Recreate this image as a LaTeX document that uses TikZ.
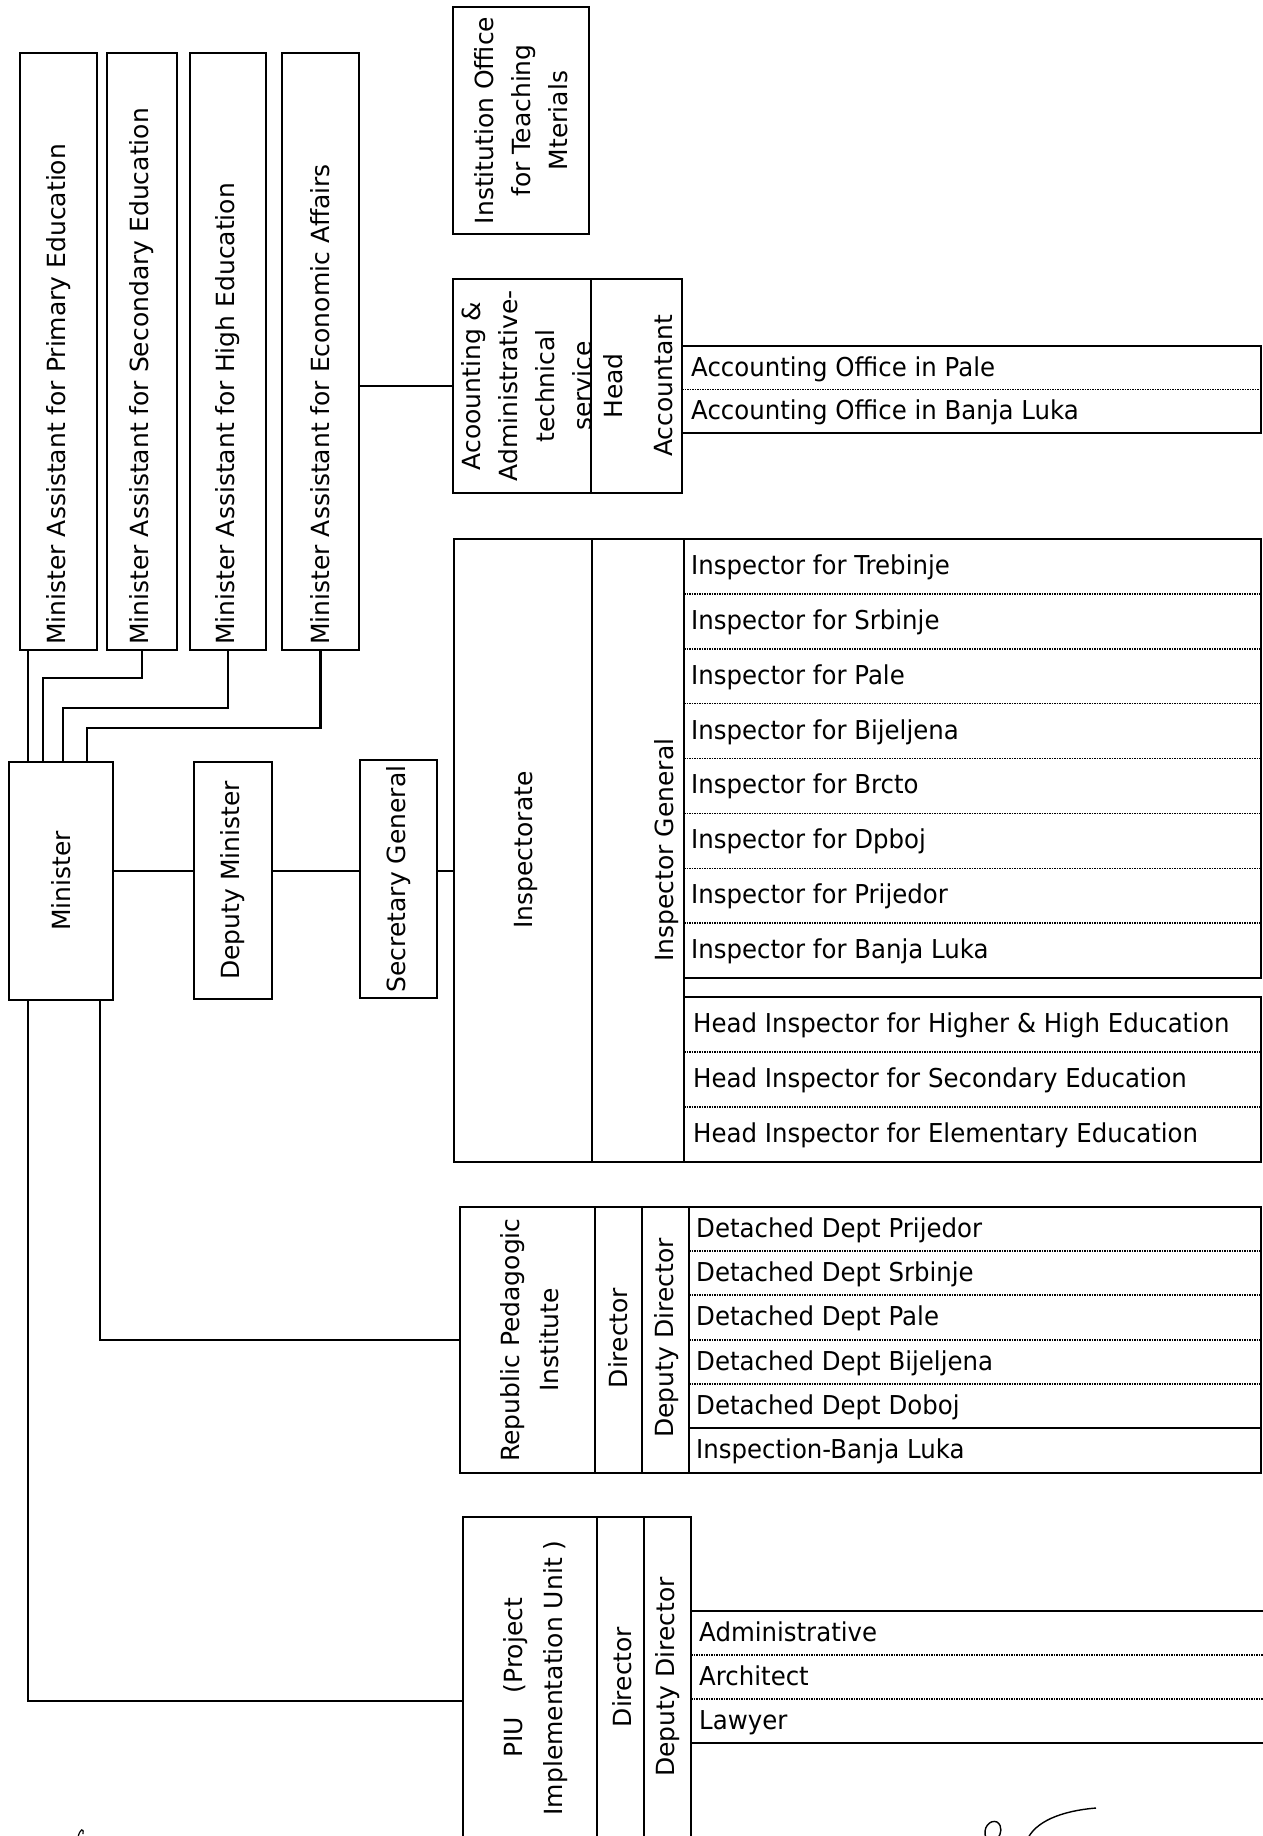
\documentclass[tikz,border=0pt]{standalone}
\usepackage{fontspec}
\setmainfont{DejaVu Sans}
\newfontfamily\lstfont[FakeStretch=0.94]{DejaVu Sans}
\usetikzlibrary{calc}
\begin{document}
\begin{tikzpicture}[x=1pt,y=-1pt,
  box/.style={draw, line width=2.3pt, inner sep=0pt, outer sep=0pt},
  rlabel/.style={rotate=90, inner sep=0pt, font=\fontsize{25}{37}\selectfont, align=center},
  item/.style={anchor=base west, inner sep=0pt, font=\lstfont\fontsize{26}{30}\selectfont},
  conn/.style={line width=2.2pt},
  sepline/.style={line width=1.5pt, densely dotted},
  solidsep/.style={line width=2.2pt},
]
\useasboundingbox (0,0) rectangle (1263,1836);
\clip (0,0) rectangle (1263,1836);

% ---- Minister assistants
\node[box, minimum width=77pt, minimum height=597pt] (MA1) at (58.5,351.5) {};
\node[box, minimum width=70pt, minimum height=597pt] (MA2) at (142,351.5) {};
\node[box, minimum width=76pt, minimum height=597pt] (MA3) at (228,351.5) {};
\node[box, minimum width=77pt, minimum height=597pt] (MA4) at (320.5,351.5) {};
\node[rlabel, anchor=west] (tMA1) at ([yshift=5pt]MA1.south) {Minister Assistant for Primary Education};
\node[rlabel, anchor=west] (tMA2) at ([yshift=5pt]MA2.south) {Minister Assistant for Secondary Education};
\node[rlabel, anchor=west] (tMA3) at ([yshift=5pt]MA3.south) {Minister Assistant for High Education};
\node[rlabel, anchor=west] (tMA4) at ([yshift=5pt]MA4.south) {Minister Assistant for Economic Affairs};

% ---- Minister, Deputy, Secretary
\node[box, minimum width=104pt, minimum height=238pt] (Min) at (61,881) {};
\node[rlabel] (tMin) at (Min.center) {Minister};
\node[box, minimum width=78pt, minimum height=237pt] (Dep) at (233,880.5) {};
\node[rlabel] (tDep) at (Dep.center) {Deputy Minister};
\node[box, minimum width=77pt, minimum height=238pt] (Sec) at (398.5,879) {};
\node[rlabel] (tSec) at (Sec.center) {Secretary General};

% ---- Institution office
\node[box, minimum width=136pt, minimum height=227pt] (Inst) at (521,120.5) {};
\node[rlabel] (tInst) at (Inst.center) {Institution Office\\for Teaching\\Mterials};

% ---- Accounting
\node[box, minimum width=138pt, minimum height=214pt] (Acc) at (522,386) {};
\node[rlabel] (tAcc) at (527,386) {Acoounting \&\\Administrative-\\technical\\service};
\node[box, minimum width=91pt, minimum height=214pt] (HAcc) at (636.5,386) {};
\node[rlabel] (tHAcc) at (638,386) {Head\\[13pt]Accountant};
\node[box, minimum width=579pt, minimum height=87pt] (AccOff) at (971.5,389.5) {};
\draw[sepline] (AccOff.west) -- (AccOff.east);
\node[item] (ao1) at (691,376) {Accounting Office in Pale};
\node[item] (ao2) at (691,419) {Accounting Office in Banja Luka};

% ---- Inspectorate
\node[box, minimum width=138pt, minimum height=623pt] (Insp) at (523,850.5) {};
\node[rlabel] (tInsp) at (526,850) {Inspectorate};
\node[box, minimum width=92pt, minimum height=623pt] (IG) at (638,850.5) {};
\node[rlabel] (tIG) at (667,850) {Inspector General};
\node[box, minimum width=577pt, minimum height=439pt] (InsList) at (972.5,758.5) {};
\foreach \k in {1,...,7} {
  \draw[sepline] (684,{539+\k*54.875}) -- (1261,{539+\k*54.875});
}
\foreach \t [count=\i] in {Trebinje,Srbinje,Pale,Bijeljena,Brcto,Dpboj,Prijedor,Banja Luka} {
  \node[item] (ins\i) at (691,{539+(\i-0.5)*54.875+8}) {Inspector for \t};
}
\node[box, minimum width=577pt, minimum height=165pt] (HeadList) at (972.5,1079.5) {};
\draw[sepline] (684,1052) -- (1261,1052);
\draw[sepline] (684,1107) -- (1261,1107);
\node[item] (hi1) at (693,1032.5) {Head Inspector for Higher \& High Education};
\node[item] (hi2) at (693,1087.5) {Head Inspector for Secondary Education};
\node[item] (hi3) at (693,1142.5) {Head Inspector for Elementary Education};

% ---- Republic Pedagogic Institute
\node[box, minimum width=135pt, minimum height=266pt] (RPI) at (527.5,1340) {};
\node[rlabel, font=\fontsize{25}{39}\selectfont] (tRPI) at (530,1340) {Republic Pedagogic\\Institute};
\node[box, minimum width=47pt, minimum height=266pt] (RDir) at (618.5,1340) {};
\node[rlabel] (tRDir) at (618.5,1338) {Director};
\node[box, minimum width=47pt, minimum height=266pt] (RDep) at (665.5,1340) {};
\node[rlabel] (tRDep) at (667,1338) {Deputy Director};
\node[box, minimum width=572pt, minimum height=266pt] (Dept) at (975,1340) {};
\foreach \yy in {1251,1295,1340,1384} {
  \draw[sepline] (689,\yy) -- (1261,\yy);
}
\draw[solidsep] (689,1428) -- (1261,1428);
\foreach \t/\yy [count=\i] in {Detached Dept Prijedor/1229,Detached Dept Srbinje/1273,Detached Dept Pale/1317.5,Detached Dept Bijeljena/1362,Detached Dept Doboj/1406,Inspection-Banja Luka/1450.5} {
  \node[item] (dd\i) at (696,\yy+8) {\t};
}

% ---- PIU
\node[box, minimum width=134pt, minimum height=323pt] (PIU) at (530,1678.5) {};
\node[rlabel, font=\fontsize{25}{40}\selectfont] (tPIU) at (536,1678) {PIU\ \ \ (Project\\Implementation Unit )};
\node[box, minimum width=47pt, minimum height=323pt] (PDir) at (620.5,1678.5) {};
\node[rlabel] (tPDir) at (622,1677) {Director};
\node[box, minimum width=47pt, minimum height=323pt] (PDep) at (667.5,1678.5) {};
\node[rlabel] (tPDep) at (668,1677) {Deputy Director};
\node[inner sep=0pt, minimum width=580pt, minimum height=132pt] (Staff) at (981,1677) {};
\draw[solidsep] (Staff.north west) -- (Staff.north east);
\draw[solidsep] (Staff.south west) -- (Staff.south east);
\draw[sepline] (691,1655) -- (1270,1655);
\draw[sepline] (691,1699) -- (1270,1699);
\node[item] (st1) at (699,1641) {Administrative};
\node[item] (st2) at (699,1685) {Architect};
\node[item] (st3) at (699,1729) {Lawyer};

% ---- connectors
\coordinate (b1) at (28,0);
\coordinate (b2) at (43,678);
\coordinate (b3) at (63,708);
\coordinate (b4) at (87,728);
\coordinate (hy) at (0,871);
\coordinate (m2) at (100,0);
\coordinate (p1) at (28,1701);
\draw[conn] (MA1.south -| b1) -- (Min.north -| b1);
\draw[conn] (MA2.south) |- (b2) -- (b2 |- Min.north);
\draw[conn] (MA3.south) |- (b3) -- (b3 |- Min.north);
\draw[conn] (MA4.south) |- (b4) -- (b4 |- Min.north);
\draw[conn] (Min.east |- hy) -- (Dep.west |- hy);
\draw[conn] (Dep.east |- hy) -- (Sec.west |- hy);
\draw[conn] (Sec.east |- hy) -- (Insp.west |- hy);
\draw[conn] (MA4.east |- Acc.west) -- (Acc.west);
\draw[conn] (Min.south -| m2) |- (RPI.west);
\draw[conn] (Min.south -| p1) -- (p1) -- (p1 -| PIU.west);

% ---- signature marks
\draw[line width=1.2pt] (78,1837) .. controls (80,1829) and (84,1827) .. (83,1834);
\draw[line width=1.4pt] (986,1838) .. controls (982,1828) and (990,1819) .. (997,1822) .. controls (1003,1826) and (1001,1834) .. (998,1838);
\draw[line width=1.4pt] (1027,1840) .. controls (1035,1822) and (1060,1811) .. (1096,1808);
\end{tikzpicture}
\end{document}
